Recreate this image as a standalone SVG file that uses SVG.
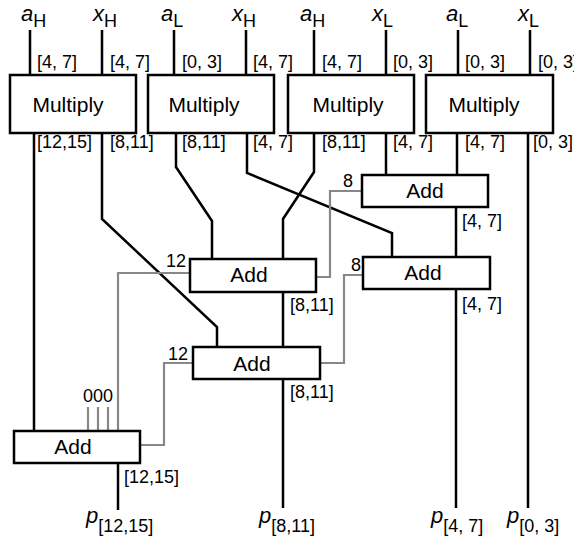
<svg xmlns="http://www.w3.org/2000/svg" width="574" height="539" viewBox="0 0 574 539">
<style>
.box{fill:#fff;stroke:#000;stroke-width:2.5}
.w{fill:none;stroke:#000;stroke-width:2.5;stroke-linejoin:miter}
.g{fill:none;stroke:#888;stroke-width:2.2}
.big{font-family:"Liberation Sans",Arial,sans-serif;font-size:21px;text-anchor:middle}
.lb{font-family:"Liberation Sans",Arial,sans-serif;font-size:18px}
.it{font-family:"Liberation Sans",Arial,sans-serif;font-size:22px;font-style:italic}
.sub{font-family:"Liberation Sans",Arial,sans-serif;font-size:18px}
</style>
<rect width="574" height="539" fill="#fff"/>
<g id="connectors">
<path class="w" d="M30,30V75M102,30V75M174,30V75M246,30V75M314,30V75M386,30V75M458,30V75M530,30V75"/>
<path class="w" d="M34,133V431"/>
<path class="w" d="M102,133V219L217,327V347"/>
<path class="w" d="M176,133V167L212,221V259"/>
<path class="w" d="M247,133V173L392,233V257"/>
<path class="w" d="M314,133V172L283,219V259"/>
<path class="w" d="M386,133V175"/>
<path class="w" d="M457,133V175"/>
<path class="w" d="M528,133V508"/>
<path class="w" d="M456,207V257"/>
<path class="w" d="M456,289V508"/>
<path class="w" d="M283,292V347"/>
<path class="w" d="M283,379V508"/>
<path class="w" d="M118,463V510"/>
<path class="g" d="M316,277H330V191H362"/>
<path class="g" d="M320,363H344V275H363"/>
<path class="g" d="M140,445H164V363H193"/>
<path class="g" d="M190,273H118V431"/>
<path class="g" d="M88,407V431M98,407V431M108,407V431"/>
</g>
<g id="mul1"><rect class="box" x="10" y="75" width="126" height="58"/><text class="big" x="68" y="112">Multiply</text></g>
<g id="mul2"><rect class="box" x="148" y="75" width="126" height="58"/><text class="big" x="204" y="112">Multiply</text></g>
<g id="mul3"><rect class="box" x="288" y="75" width="126" height="58"/><text class="big" x="348" y="112">Multiply</text></g>
<g id="mul4"><rect class="box" x="426" y="75" width="127" height="58"/><text class="big" x="484" y="112">Multiply</text></g>
<g id="add1"><rect class="box" x="362" y="175" width="126" height="32"/><text class="big" x="425" y="198">Add</text></g>
<g id="add2"><rect class="box" x="190" y="259" width="126" height="33"/><text class="big" x="249" y="282">Add</text></g>
<g id="add3"><rect class="box" x="363" y="257" width="127" height="32"/><text class="big" x="423" y="280">Add</text></g>
<g id="add4"><rect class="box" x="193" y="347" width="127" height="32"/><text class="big" x="252" y="371">Add</text></g>
<g id="add5"><rect class="box" x="14" y="431" width="126" height="32"/><text class="big" x="73" y="454">Add</text></g>
<g id="inputs">
<text x="21" y="21"><tspan class="it">a</tspan><tspan class="sub" dy="6">H</tspan></text>
<text x="93" y="21"><tspan class="it">x</tspan><tspan class="sub" dy="6">H</tspan></text>
<text x="161" y="21"><tspan class="it">a</tspan><tspan class="sub" dy="6">L</tspan></text>
<text x="232" y="21"><tspan class="it">x</tspan><tspan class="sub" dy="6">H</tspan></text>
<text x="300" y="21"><tspan class="it">a</tspan><tspan class="sub" dy="6">H</tspan></text>
<text x="372" y="21"><tspan class="it">x</tspan><tspan class="sub" dy="6">L</tspan></text>
<text x="446" y="21"><tspan class="it">a</tspan><tspan class="sub" dy="6">L</tspan></text>
<text x="518" y="21"><tspan class="it">x</tspan><tspan class="sub" dy="6">L</tspan></text>
</g>
<g id="labels" class="lb">
<text x="37" y="68">[4, 7]</text>
<text x="110" y="68">[4, 7]</text>
<text x="182" y="68">[0, 3]</text>
<text x="253" y="68">[4, 7]</text>
<text x="322" y="68">[4, 7]</text>
<text x="393" y="68">[0, 3]</text>
<text x="465" y="68">[0, 3]</text>
<text x="538" y="68">[0, 3]</text>
<text x="37" y="148">[12,15]</text>
<text x="110" y="148">[8,11]</text>
<text x="182" y="148">[8,11]</text>
<text x="253" y="148">[4, 7]</text>
<text x="322" y="148">[8,11]</text>
<text x="393" y="148">[4, 7]</text>
<text x="465" y="148">[4, 7]</text>
<text x="533" y="148">[0, 3]</text>
<text x="462" y="227">[4, 7]</text>
<text x="462" y="310">[4, 7]</text>
<text x="290" y="311">[8,11]</text>
<text x="290" y="398">[8,11]</text>
<text x="124" y="483">[12,15]</text>
<text x="343" y="187">8</text>
<text x="351" y="271">8</text>
<text x="166" y="267">12</text>
<text x="168" y="360">12</text>
<text x="83" y="402">000</text>
</g>
<g id="outputs">
<text x="86" y="523"><tspan class="it">p</tspan><tspan class="sub" dy="9">[12,15]</tspan></text>
<text x="259" y="523"><tspan class="it">p</tspan><tspan class="sub" dy="9">[8,11]</tspan></text>
<text x="431" y="523"><tspan class="it">p</tspan><tspan class="sub" dy="9">[4, 7]</tspan></text>
<text x="507" y="523"><tspan class="it">p</tspan><tspan class="sub" dy="9">[0, 3]</tspan></text>
</g>
</svg>
